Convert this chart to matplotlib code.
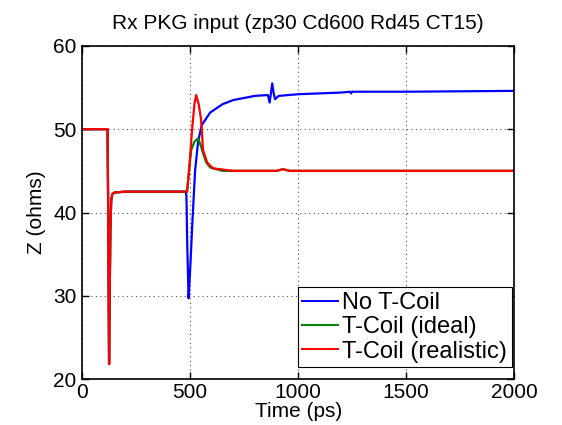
import matplotlib
matplotlib.use("Agg")
import matplotlib.pyplot as plt

# common part of all three traces (before the T-coil region)
t_common = [0, 118, 121, 125, 128, 131, 135, 140, 150, 200, 300, 400, 480]
z_common = [50.0, 50.0, 40.0, 21.8, 30.0, 38.0, 41.5, 42.2, 42.4, 42.5, 42.5, 42.5, 42.5]

# No T-Coil
t_blue = [483, 487, 493, 500, 510, 523, 537, 554, 593, 650, 700, 800, 860,
          868, 875, 880, 887, 893, 910, 1000, 1200, 1240, 1245, 1250, 1500, 2000]
z_blue = [42.0, 36.0, 29.7, 33.0, 38.5, 45.0, 48.5, 50.5, 52.0, 53.0, 53.5, 54.0, 54.1,
          53.2, 54.5, 55.5, 54.3, 53.6, 54.0, 54.2, 54.4, 54.5, 54.3, 54.5, 54.5, 54.6]

# T-Coil (ideal)
t_green = [486, 495, 505, 520, 537, 550, 560, 575, 593, 650, 900, 930, 960, 1200, 2000]
z_green = [42.5, 45.0, 47.5, 48.5, 48.9, 48.0, 47.1, 46.0, 45.4, 45.0, 45.0, 45.2, 45.0, 45.0, 45.0]

# T-Coil (realistic)
t_red = [486, 495, 509, 520, 528, 540, 551, 560, 579, 606, 700, 900, 930, 960, 1200, 2000]
z_red = [42.5, 45.0, 49.9, 53.0, 54.1, 53.0, 51.1, 47.5, 46.0, 45.3, 45.0, 45.0, 45.2, 45.0, 45.0, 45.0]

series = [
    ("No T-Coil", t_blue, z_blue, "#0000ff"),
    ("T-Coil (ideal)", t_green, z_green, "#008000"),
    ("T-Coil (realistic)", t_red, z_red, "#ff0000"),
]

plt.rcParams['font.family'] = ['Liberation Sans', 'DejaVu Sans']

fig = plt.figure(figsize=(5.62, 4.25), dpi=100)
ax = fig.add_axes([0.146, 0.108, 0.769, 0.784])

for label, t, z, color in series:
    ax.plot(t_common + t, z_common + z, color=color, linewidth=1.6, label=label)

ax.set_xlim(0, 2000)
ax.set_ylim(20, 60)
ax.set_xticks([0, 500, 1000, 1500, 2000])
ax.set_yticks([20, 30, 40, 50, 60])
ax.grid(True, color='#555555', linestyle=(0, (1, 3)), linewidth=0.8)
ax.tick_params(direction='in', top=True, right=True, labelsize=15, length=5, width=1)
ax.tick_params(axis='x', pad=3)
ax.tick_params(axis='y', pad=4)
for s in ax.spines.values():
    s.set_linewidth(1.2)

ax.set_title("Rx PKG input (zp30 Cd600 Rd45 CT15)", fontsize=15, pad=12)
ax.set_xlabel("Time (ps)", fontsize=15, labelpad=0)
ax.set_ylabel("Z (ohms)", fontsize=15, labelpad=5)

leg = ax.legend(loc='lower right', bbox_to_anchor=(0.995, 0.035), fontsize=17,
                fancybox=False, framealpha=1, edgecolor='black', borderpad=0.2,
                labelspacing=0.1, handlelength=1.5, handletextpad=0.2,
                borderaxespad=0)
leg.get_frame().set_linewidth(0.8)
for h in leg.get_lines():
    h.set_linewidth(1.4)

fig.savefig("out.png", dpi=100)
